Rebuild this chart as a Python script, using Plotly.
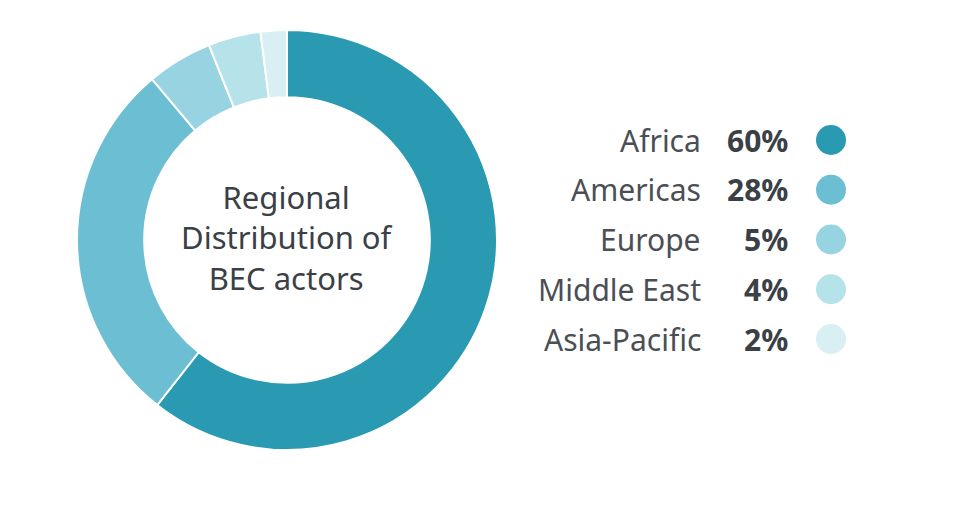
import plotly.graph_objects as go

regions = ["Africa", "Americas", "Europe", "Middle East", "Asia-Pacific"]
shares = [60, 28, 5, 4, 2]
pct_labels = ["60%", "28%", "5%", "4%", "2%"]
colors = ["#2A9AB2", "#6CBFD2", "#98D3E1", "#B6E2EA", "#D8EFF3"]
center_title = "Regional<br>Distribution of<br>BEC actors"

W, H = 968, 517
OFF = 8  # page body margin
FONT = "Noto Sans"

fig = go.Figure()

fig.add_trace(go.Pie(
    labels=regions, values=shares, sort=False, direction="clockwise", rotation=0,
    hole=0.68, textinfo="none", hoverinfo="label+percent",
    marker=dict(colors=colors, line=dict(color="white", width=2)),
    domain=dict(x=[(77 - OFF) / W, (497 - OFF) / W], y=[1 - (450 - OFF) / H, 1 - (30 - OFF) / H]),
    showlegend=False,
))

# legend dots
idx = list(range(len(regions)))
fig.add_trace(go.Scatter(
    x=[831 - OFF] * len(regions), y=idx, mode="markers",
    marker=dict(size=30, color=colors, line=dict(width=0)),
    hoverinfo="skip", showlegend=False,
))

row0, step = 140 - OFF, 49.75
yr = [(H - row0) / step, -row0 / step]

annotations = []
for i, (lab, pct) in enumerate(zip(regions, pct_labels)):
    annotations.append(dict(x=703 - OFF, y=i, xref="x", yref="y", text=lab, showarrow=False,
                            xanchor="right", yanchor="middle",
                            font=dict(family=FONT, size=30, color="#4a4f55")))
    annotations.append(dict(x=790 - OFF, y=i, xref="x", yref="y", text="<b>" + pct + "</b>", showarrow=False,
                            xanchor="right", yanchor="middle",
                            font=dict(family=FONT, size=30, color="#3b4046")))
annotations.append(dict(x=(287 - OFF) / W, y=1 - (238 - OFF) / H, xref="paper", yref="paper", text=center_title,
                        showarrow=False, xanchor="center", yanchor="middle",
                        font=dict(family=FONT, size=31, color="#3b4046")))

fig.update_layout(
    width=W, height=H, margin=dict(l=0, r=0, t=0, b=0),
    paper_bgcolor="white", plot_bgcolor="rgba(0,0,0,0)",
    xaxis=dict(range=[0, W], visible=False, domain=[0, 1], fixedrange=True),
    yaxis=dict(range=yr, visible=False, domain=[0, 1], fixedrange=True),
    annotations=annotations,
)

fig.write_html("out.html")
